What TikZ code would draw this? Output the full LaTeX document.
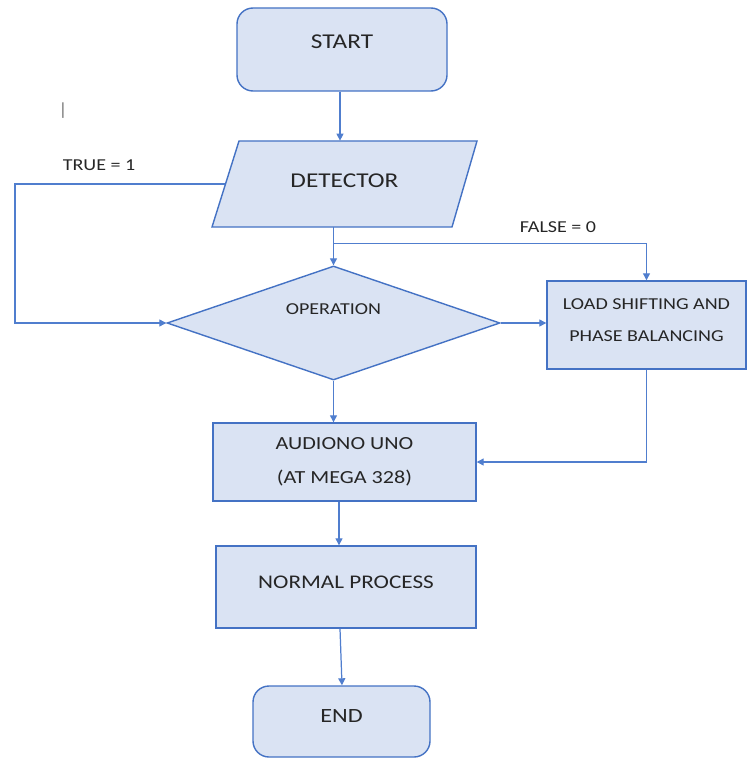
\documentclass[tikz,border=0pt]{standalone}
\usepackage{fontspec}
\setmainfont{Carlito}[FakeStretch=1.2]
\usepackage{xcolor}
\definecolor{boxfill}{RGB}{218, 227, 243}
\definecolor{boxedge}{RGB}{68, 114, 196}
\definecolor{flowblue}{RGB}{80, 126, 206}
\definecolor{textgrey}{RGB}{38, 38, 38}
\usepackage{tikz}
\usetikzlibrary{arrows.meta, positioning, calc, shapes.geometric}

\tikzset{
    base/.style={draw=boxedge, line width=0.8pt, fill=boxfill, text=textgrey, inner sep=0pt},
    terminal/.style={base, rectangle, rounded corners=0.32cm, font=\fontsize{12}{14}\selectfont},
    inout/.style={rectangle, inner sep=0pt, text=textgrey, font=\fontsize{12}{14}\selectfont},
    decision/.style={base, diamond},
    process/.style={base, rectangle, align=center},
    flow/.style={draw=flowblue, line width=0.7pt},
    smalltxt/.style={text=textgrey, font=\fontsize{9.5}{11}\selectfont},
}

\begin{document}
\begin{tikzpicture}[>={Triangle[length=1.4mm, width=1.4mm]}]
    \useasboundingbox (0,0) rectangle (14.94,-15.16);

    \filldraw[base] (4.78,-2.82) -- (9.54,-2.82) -- (9.04,-4.54) -- (4.24,-4.54) -- cycle;

    \node[terminal, minimum width=4.2cm, minimum height=1.66cm, text depth=0.3cm] (start) at (6.84,-0.99) {START};
    \node[inout, minimum width=4.76cm, minimum height=1.72cm, text depth=0.15cm] (det) at (6.89,-3.68) {DETECTOR};
    \node[decision, minimum width=6.66cm, minimum height=2.28cm] (op) at (6.67,-6.46) {};
    \node[smalltxt] (optext) at ([yshift=0.28cm]op.center) {OPERATION};
    \node[process, minimum width=3.98cm, minimum height=1.76cm, smalltxt, text depth=0.2cm,
        font=\fontsize{9.5}{18}\selectfont] (load) at (12.93,-6.5) {LOAD SHIFTING AND\\PHASE BALANCING};
    \node[process, minimum width=5.26cm, minimum height=1.56cm,
        font=\fontsize{10.5}{19.5}\selectfont, text=textgrey] (aud) at (6.89,-9.24) {AUDIONO UNO\\(AT MEGA 328)};
    \node[process, minimum width=5.2cm, minimum height=1.64cm, text depth=0.2cm,
        font=\fontsize{11}{13}\selectfont, text=textgrey] (norm) at (6.92,-11.74) {NORMAL PROCESS};
    \node[terminal, minimum width=3.54cm, minimum height=1.42cm, text depth=0.2cm,
        font=\fontsize{11.5}{13}\selectfont] (end) at (6.83,-14.43) {END};

    \node[smalltxt] (truelbl) at (1.98,-3.3) {TRUE = 1};
    \node[smalltxt] (falselbl) at (11.16,-4.54) {FALSE = 0};
    \node[text=gray, font=\fontsize{10}{12}\selectfont] (cursor) at (1.26,-2.22) {|};

    \coordinate (truebot) at (0.3,-6.46);
    \coordinate (split) at ($(op.north)+(0,0.44)$);

    \draw[flow, ->] (start.south -| 6.8,0) -- (det.north -| 6.8,0);
    \draw[flow, ->] (op.north |- det.south) -- (op.north);
    \draw[flow, ->] (split) -| (load.north);
    \draw[flow, ->] (det.west) -| (truebot) -- (op.west);
    \draw[flow, ->] (op.east) -- (op.east -| load.west);
    \draw[flow, ->] (op.south) -- (op.south |- aud.north);
    \draw[flow, ->] (load.south) |- (aud.east);
    \draw[flow, ->] (aud.south -| 6.78,0) -- (norm.north -| 6.78,0);
    \draw[flow, ->] (norm.south -| 6.8,0) -- (end.north -| 6.84,0);
\end{tikzpicture}
\end{document}
